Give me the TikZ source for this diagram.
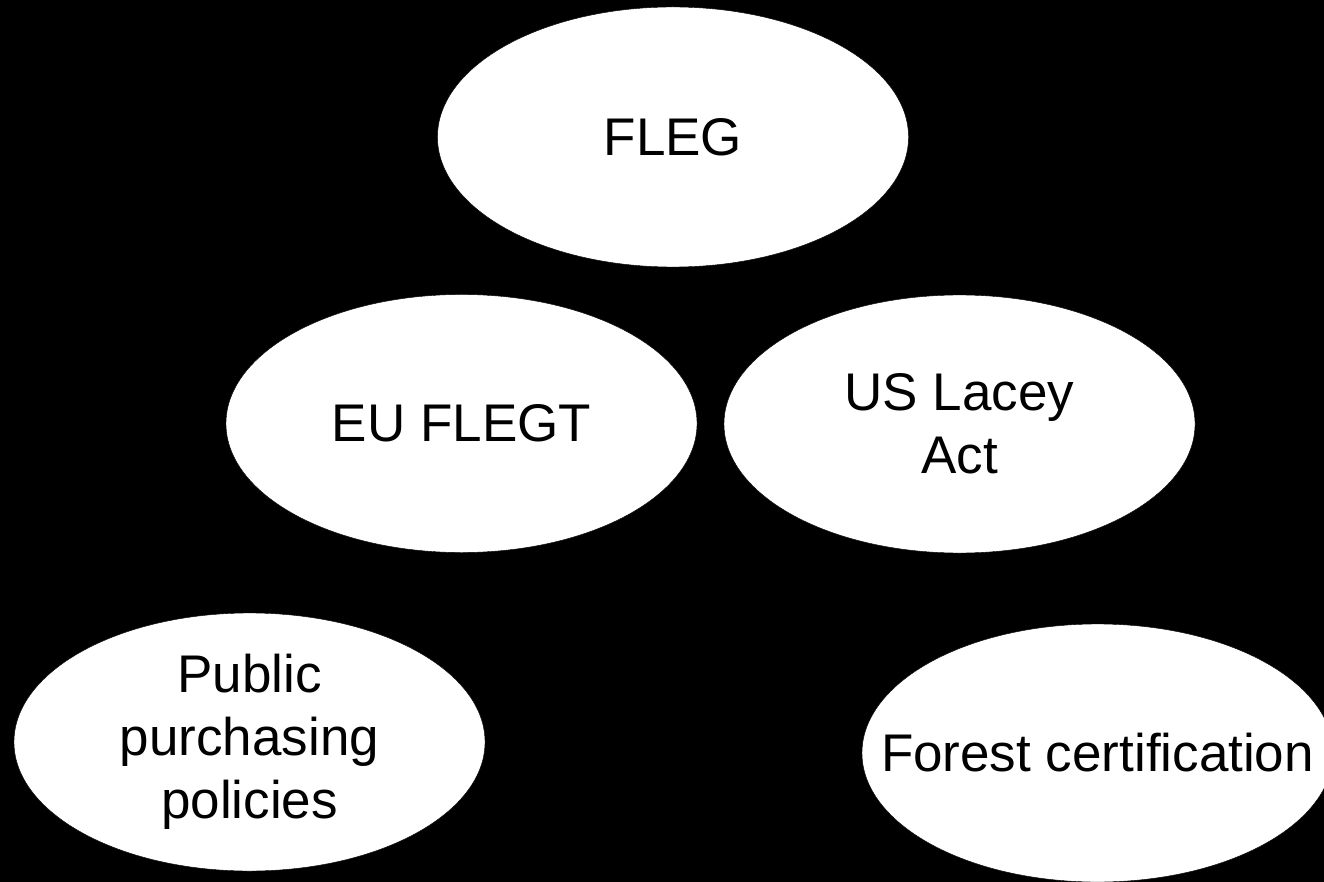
\documentclass[tikz,border=0pt]{standalone}
\usepackage{fontspec}
\setmainfont{Liberation Sans}
\usetikzlibrary{shapes.geometric}
\tikzset{bubble/.style={ellipse,fill=white,draw=black,minimum width=471pt,minimum height=258pt,inner sep=0pt,align=center,font=\fontsize{53}{63}\selectfont}}
\begin{document}
\begin{tikzpicture}[x=1pt,y=-1pt]
\clip (0,0) rectangle (1324,882);
\path [fill=black] (0,0) rectangle (1324,882);
\node [bubble,minimum height=260pt] (fleg) at (673,137) {FLEG};
\node [bubble] (euflegt) at (461.5,423.5) {EU FLEGT};
\node [bubble] (lacey) at (959.5,424) {US Lacey\\Act};
\node [bubble] (public) at (249.5,742) {Public\\purchasing\\policies};
\node [bubble,inner xsep=-50pt] (forest) at (1097.5,753) {Forest certification};
\end{tikzpicture}
\end{document}
